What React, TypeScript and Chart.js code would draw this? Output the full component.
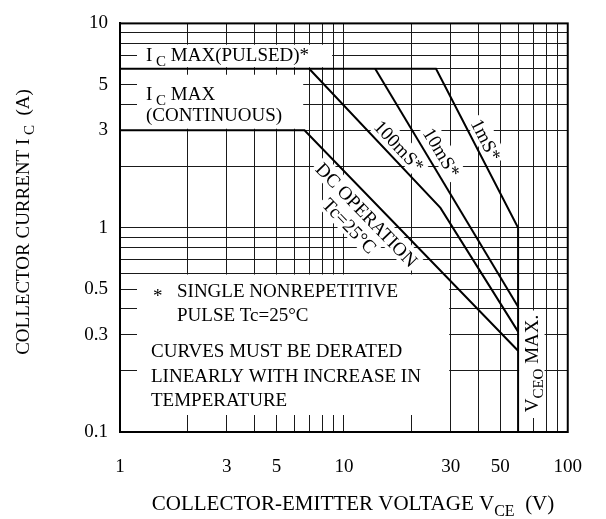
import React, { useEffect, useRef } from 'react';
import { Chart, registerables } from 'chart.js';
Chart.register(...registerables);

// Grid and tick values
const xGridValues = [1, 2, 3, 4, 5, 6, 7, 8, 9, 10, 20, 30, 40, 50, 60, 70, 80, 90, 100];
const yGridValues = [0.1, 0.2, 0.3, 0.4, 0.5, 0.6, 0.7, 0.8, 0.9, 1, 2, 3, 4, 5, 6, 7, 8, 9, 10];
const xTickLabels = [1, 3, 5, 10, 30, 50, 100];
const yTickLabels = [0.1, 0.3, 0.5, 1, 3, 5, 10];

// Safe operating area curves (V, A)
const pulse1msV = [1, 25.8, 60, 60];
const pulse1msI = [6, 6, 1, 0.1];
const pulse10msV = [13.8, 60];
const pulse10msI = [6, 0.41];
const pulse100msV = [7, 27, 60];
const pulse100msI = [6, 1.25, 0.31];
const dcV = [1, 6.67, 60];
const dcI = [3, 3, 0.25];

const SERIF = '"Liberation Serif", "Times New Roman", serif';
const FS = 19;
const TICK_FS = 19;
const XTITLE_FS = 21;
const YTITLE_FS = 19;

type Part = [string, boolean];

function partsWidth(ctx: CanvasRenderingContext2D, parts: Part[], size: number) {
  let w = 0;
  for (const [t, sub] of parts) {
    ctx.font = `${sub ? Math.round(size * 0.78) : size}px ${SERIF}`;
    w += ctx.measureText(t).width;
  }
  return w;
}

function drawParts(ctx: CanvasRenderingContext2D, parts: Part[], x: number, y: number, size: number) {
  let cx = x;
  ctx.textAlign = 'left';
  ctx.textBaseline = 'alphabetic';
  for (const [t, sub] of parts) {
    ctx.font = `${sub ? Math.round(size * 0.78) : size}px ${SERIF}`;
    ctx.fillText(t, cx, sub ? y + size * 0.27 : y);
    cx += ctx.measureText(t).width;
  }
  return cx - x;
}

function labelFor(v: number, list: number[]) {
  const hit = list.find((l) => Math.abs(l - v) / l < 1e-6);
  return hit === undefined ? '' : String(hit);
}

const annotations = {
  id: 'soaAnnotations',
  beforeDatasetsDraw(chart: any) {
    const { ctx, chartArea: a } = chart;
    const xs = chart.scales.x;
    const ys = chart.scales.y;
    const px = (v: number) => xs.getPixelForValue(v);
    const py = (v: number) => ys.getPixelForValue(v);
    ctx.save();
    ctx.fillStyle = '#fff';
    const rect = (x0: number, y0: number, x1: number, y1: number) => ctx.fillRect(x0, y0, x1 - x0, y1 - y0);
    // white label boxes covering the grid
    rect(a.left + 17, py(8) + 1.5, px(9) - 1.5, py(6) - 1.5);
    rect(a.left + 17, py(6) + 6, px(6) + 9, py(3) - 1.5);
    rect(a.left + 17, py(0.6) + 1.5, px(30) - 1.5, a.bottom - 17);
    rect(px(60) + 1, py(0.4) + 1.5, px(80) - 1.5, a.bottom - 14);

    ctx.fillStyle = '#000';
    drawParts(ctx, [['I', false], [' ', true], ['C', true], [' MAX(PULSED)*', false]], 146, py(6) - 8, FS);
    drawParts(ctx, [['I', false], [' ', true], ['C', true], [' MAX', false]], 146, py(6) + 31, FS);
    drawParts(ctx, [['(CONTINUOUS)', false]], 146, py(3) - 9, FS);

    ctx.font = `${FS}px ${SERIF}`;
    ctx.textAlign = 'left';
    ctx.fillText('*', 153, 302);
    ctx.fillText('SINGLE NONREPETITIVE', 177, 297);
    ctx.fillText('PULSE Tc=25°C', 177, 321);
    ctx.fillText('CURVES MUST BE DERATED', 151, 357);
    ctx.fillText('LINEARLY WITH INCREASE IN', 151, 382);
    ctx.fillText('TEMPERATURE', 151, 406);

    // VCEO MAX. vertical label
    const vParts: Part[] = [['V', false], ['CEO', true], [' MAX.', false]];
    const vw = partsWidth(ctx, vParts, FS);
    ctx.save();
    ctx.translate(px(60) + 20, (py(0.4) + a.bottom - 14) / 2);
    ctx.rotate(-Math.PI / 2);
    drawParts(ctx, vParts, -vw / 2, 0, FS);
    ctx.restore();

    // rotated curve labels
    const along = (v0: number, i0: number, v1: number, i1: number, dist: number, perp: number) => {
      const x0 = px(v0), y0 = py(i0), x1 = px(v1), y1 = py(i1);
      const L = Math.hypot(x1 - x0, y1 - y0);
      const ux = (x1 - x0) / L, uy = (y1 - y0) / L;
      return { x: x0 + ux * dist + uy * perp, y: y0 + uy * dist - ux * perp, angle: Math.atan2(uy, ux) };
    };
    const rotLabel = (text: string, p: { x: number; y: number; angle: number }) => {
      ctx.save();
      ctx.translate(p.x, p.y);
      ctx.rotate(p.angle);
      ctx.font = `${FS}px ${SERIF}`;
      const w = ctx.measureText(text).width;
      ctx.fillStyle = '#fff';
      ctx.fillRect(-w / 2 - 3, -11, w + 6, 21);
      ctx.fillStyle = '#000';
      ctx.textAlign = 'center';
      ctx.textBaseline = 'alphabetic';
      ctx.fillText(text, 0, 6.5);
      ctx.restore();
    };
    rotLabel('100mS*', along(pulse100msV[0], pulse100msI[0], pulse100msV[1], pulse100msI[1], 118, 12.5));
    rotLabel('10mS*', along(pulse10msV[0], pulse10msI[0], pulse10msV[1], pulse10msI[1], 106, 14));
    rotLabel('1mS*', along(pulse1msV[1], pulse1msI[1], pulse1msV[2], pulse1msI[2], 86, 12));
    rotLabel('DC OPERATION', along(dcV[1], dcI[1], dcV[2], dcI[2], 104, -14));
    rotLabel('Tc=25°C', along(dcV[1], dcI[1], dcV[2], dcI[2], 100, -34));
    ctx.restore();
  },
  afterDraw(chart: any) {
    const { ctx, chartArea: a } = chart;
    ctx.save();
    ctx.strokeStyle = '#000';
    ctx.lineWidth = 2;
    ctx.strokeRect(a.left, a.top, a.right - a.left, a.bottom - a.top);
    ctx.fillStyle = '#000';
    // axis titles
    const yParts: Part[] = [['COLLECTOR CURRENT I', false], [' ', true], ['C', true], ['  (A)', false]];
    const yw = partsWidth(ctx, yParts, YTITLE_FS);
    ctx.save();
    ctx.translate(29, 222);
    ctx.rotate(-Math.PI / 2);
    drawParts(ctx, yParts, -yw / 2, 0, YTITLE_FS);
    ctx.restore();
    const xParts: Part[] = [['COLLECTOR-EMITTER VOLTAGE V', false], ['CE', true], ['  (V)', false]];
    const xw = partsWidth(ctx, xParts, XTITLE_FS);
    drawParts(ctx, xParts, 353 - xw / 2, 510, XTITLE_FS);
    ctx.restore();
  },
};

export default function App() {
  const ref = useRef<HTMLCanvasElement>(null);
  useEffect(() => {
    document.body.style.margin = '0';
    const canvas = ref.current!;
    const toXY = (xs: number[], ys: number[]) => xs.map((v, i) => ({ x: v, y: ys[i] }));
    const ds = (label: string, xs: number[], ys: number[]) => ({
      label,
      data: toXY(xs, ys),
      borderColor: '#000',
      backgroundColor: '#000',
      borderWidth: 2,
      pointRadius: 0,
      showLine: true,
      fill: false,
      tension: 0,
    });
    const tickFont = { family: SERIF, size: TICK_FS };
    const chart = new Chart(canvas, {
      type: 'scatter',
      data: {
        datasets: [
          ds('1mS', pulse1msV, pulse1msI),
          ds('10mS', pulse10msV, pulse10msI),
          ds('100mS', pulse100msV, pulse100msI),
          ds('DC', dcV, dcI),
        ],
      },
      options: {
        animation: false,
        responsive: false,
        devicePixelRatio: 1,
        layout: { padding: { top: 15, right: 24, left: 0, bottom: 0 } },
        plugins: { legend: { display: false }, tooltip: { enabled: false }, title: { display: false } },
        scales: {
          x: {
            type: 'logarithmic',
            min: 1,
            max: 100,
            position: 'bottom',
            afterBuildTicks: (s: any) => {
              s.ticks = xGridValues.map((v) => ({ value: v }));
            },
            afterFit: (s: any) => {
              s.height = 87;
            },
            ticks: {
              autoSkip: false,
              maxRotation: 0,
              minRotation: 0,
              padding: 24,
              color: '#000',
              font: tickFont,
              callback: (v: any) => labelFor(Number(v), xTickLabels),
            },
            grid: { color: '#1a1a1a', lineWidth: 1, drawTicks: false },
            border: { color: '#000', width: 2 },
          },
          y: {
            type: 'logarithmic',
            min: 0.1,
            max: 10,
            position: 'left',
            afterBuildTicks: (s: any) => {
              s.ticks = yGridValues.map((v) => ({ value: v }));
            },
            afterFit: (s: any) => {
              s.width = 120;
            },
            ticks: {
              autoSkip: false,
              padding: 12,
              color: '#000',
              font: tickFont,
              callback: (v: any) => labelFor(Number(v), yTickLabels),
            },
            grid: { color: '#1a1a1a', lineWidth: 1, drawTicks: false },
            border: { color: '#000', width: 2 },
          },
        },
      } as any,
      plugins: [annotations],
    });
    return () => chart.destroy();
  }, []);
  return <canvas ref={ref} width={606} height={519} style={{ display: 'block' }} />;
}
